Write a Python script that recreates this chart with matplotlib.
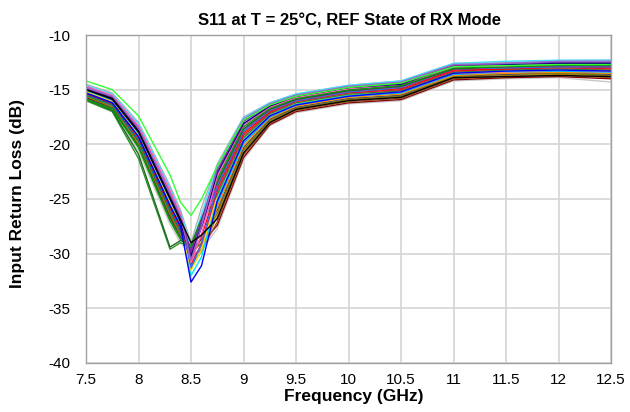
import matplotlib
matplotlib.use("Agg")
import matplotlib.pyplot as plt

# frequency points (GHz)
freq = [7.5, 7.75, 8.0, 8.3, 8.4, 8.5, 8.6, 8.75, 9.0, 9.25, 9.5, 10.0, 10.5, 11.0, 11.5, 12.0, 12.5]

# S11 traces (dB), one per unit
s11_lightgray = [-16.0, -17.0, -20.6, -27.3, -29.0, -30.0, -29.7, -27.7, -21.4, -18.3, -17.1, -16.3, -16.0, -14.2, -14.0, -13.9, -14.3]
s11_gray = [-14.5, -15.3, -18.0, -23.8, -26.0, -29.0, -25.8, -21.8, -17.5, -16.2, -15.4, -14.6, -14.2, -12.6, -12.5, -12.35, -12.3]
s11_cyan2 = [-14.6, -15.4, -18.1, -24.0, -26.2, -29.5, -26.4, -22.0, -17.6, -16.2, -15.4, -14.6, -14.2, -12.6, -12.4, -12.3, -12.3]
s11_darkred = [-15.7, -16.7, -20.1, -26.6, -28.4, -29.5, -29.1, -27.4, -21.2, -18.2, -17.0, -16.2, -15.9, -14.1, -13.9, -13.8, -14.0]
s11_brown = [-15.6, -16.5, -19.8, -26.3, -28.1, -30.2, -29.7, -27.1, -21.0, -18.1, -16.9, -16.1, -15.8, -14.0, -13.8, -13.7, -13.9]
s11_goldenrod = [-15.5, -16.4, -19.7, -26.1, -28.0, -30.4, -29.6, -26.6, -20.6, -17.9, -16.8, -16.0, -15.6, -13.9, -13.7, -13.6, -13.7]
s11_olive = [-15.6, -16.6, -20.0, -26.4, -28.3, -30.0, -29.0, -26.3, -20.5, -17.8, -16.7, -15.9, -15.6, -13.8, -13.6, -13.5, -13.7]
s11_darkgray = [-15.8, -16.7, -20.2, -26.8, -28.5, -29.8, -28.7, -26.0, -20.3, -17.7, -16.6, -15.8, -15.5, -13.7, -13.6, -13.4, -13.6]
s11_orange = [-15.3, -16.2, -19.4, -25.7, -27.7, -31.0, -29.8, -25.7, -20.1, -17.6, -16.5, -15.7, -15.4, -13.7, -13.5, -13.4, -13.5]
s11_skyblue = [-15.2, -16.2, -19.3, -25.5, -27.5, -31.2, -29.8, -25.4, -19.9, -17.5, -16.4, -15.6, -15.3, -13.6, -13.4, -13.3, -13.4]
s11_salmon = [-15.0, -15.9, -18.9, -25.0, -27.1, -30.8, -29.3, -25.0, -19.6, -17.4, -16.3, -15.5, -15.2, -13.5, -13.4, -13.2, -13.3]
s11_cyan = [-15.1, -16.0, -19.0, -25.2, -27.2, -32.0, -30.3, -24.9, -19.5, -17.3, -16.3, -15.5, -15.1, -13.4, -13.3, -13.2, -13.2]
s11_gold = [-15.2, -16.1, -19.2, -25.4, -27.4, -31.5, -29.7, -24.6, -19.4, -17.2, -16.2, -15.4, -15.1, -13.4, -13.2, -13.1, -13.2]
s11_darkgreen2 = [-16.0, -17.0, -21.3, -29.6, -29.0, -29.4, -27.2, -24.6, -19.4, -17.2, -16.2, -15.4, -15.1, -13.4, -13.2, -13.1, -13.2]
s11_crimson = [-14.9, -15.8, -18.7, -24.8, -26.9, -31.0, -29.1, -24.3, -19.2, -17.1, -16.1, -15.3, -15.0, -13.3, -13.1, -13.0, -13.1]
s11_red = [-15.4, -16.3, -19.6, -25.9, -27.8, -30.5, -28.4, -24.0, -19.0, -17.0, -16.0, -15.2, -14.9, -13.2, -13.1, -12.9, -13.0]
s11_teal = [-15.5, -16.4, -19.7, -26.1, -28.0, -29.6, -27.4, -23.8, -18.8, -16.9, -16.0, -15.2, -14.8, -13.1, -13.0, -12.9, -12.9]
s11_royalblue = [-14.8, -15.6, -18.5, -24.5, -26.6, -31.3, -29.1, -23.8, -18.8, -16.9, -16.0, -15.2, -14.8, -13.1, -13.0, -12.9, -12.9]
s11_magenta = [-14.7, -15.6, -18.4, -24.3, -26.5, -30.0, -27.6, -23.5, -18.6, -16.8, -15.9, -15.1, -14.7, -13.1, -12.9, -12.8, -12.8]
s11_darkgreen = [-15.9, -16.9, -20.9, -29.4, -28.8, -29.2, -26.8, -23.5, -18.6, -16.8, -15.9, -15.1, -14.7, -13.1, -12.9, -12.8, -12.8]
s11_green = [-15.9, -16.8, -20.3, -27.0, -28.7, -29.4, -26.9, -23.2, -18.4, -16.7, -15.8, -15.0, -14.6, -13.0, -12.9, -12.7, -12.7]
s11_darkmagenta = [-15.3, -16.2, -19.3, -25.6, -27.5, -30.1, -27.5, -22.9, -18.2, -16.6, -15.7, -14.9, -14.5, -12.9, -12.8, -12.6, -12.6]
s11_pink = [-14.7, -15.5, -18.3, -24.2, -26.3, -30.8, -28.2, -22.9, -18.2, -16.6, -15.7, -14.9, -14.5, -12.9, -12.8, -12.6, -12.6]
s11_navy = [-15.0, -15.9, -18.9, -25.0, -27.1, -30.3, -27.5, -22.6, -18.1, -16.5, -15.6, -14.8, -14.5, -12.8, -12.7, -12.6, -12.6]
s11_purple = [-14.9, -15.7, -18.7, -24.7, -26.8, -29.8, -26.9, -22.4, -17.9, -16.4, -15.6, -14.8, -14.4, -12.8, -12.6, -12.5, -12.5]
s11_violet = [-14.8, -15.6, -18.5, -24.5, -26.6, -30.6, -27.5, -22.1, -17.7, -16.3, -15.5, -14.7, -14.3, -12.7, -12.6, -12.4, -12.4]
s11_blue = [-15.3, -16.2, -19.3, -25.6, -27.5, -32.6, -31.1, -25.2, -19.7, -17.4, -16.4, -15.6, -15.2, -13.5, -13.3, -13.2, -13.3]
s11_black = [-15.0, -15.8, -18.8, -24.9, -26.9, -29.0, -28.3, -26.8, -20.8, -18.0, -16.8, -16.0, -15.7, -13.9, -13.8, -13.7, -13.8]
s11_lime = [-14.2, -15.0, -17.4, -22.8, -25.3, -26.5, -25.0, -22.0, -17.8, -16.4, -15.6, -14.8, -14.4, -12.9, -12.8, -12.7, -12.7]

traces = [
    (s11_lightgray, "#c8c8c8"),
    (s11_gray, "#b0b0b0"),
    (s11_cyan2, "#40e0ff"),
    (s11_darkred, "#800000"),
    (s11_brown, "#a0522d"),
    (s11_goldenrod, "#b8860b"),
    (s11_olive, "#808000"),
    (s11_darkgray, "#505050"),
    (s11_orange, "#ff8c00"),
    (s11_skyblue, "#00b0f0"),
    (s11_salmon, "#fa8072"),
    (s11_cyan, "#00e5ee"),
    (s11_gold, "#ffd700"),
    (s11_darkgreen2, "#2f8f2f"),
    (s11_crimson, "#dc143c"),
    (s11_red, "#ff0000"),
    (s11_teal, "#008080"),
    (s11_royalblue, "#4169e1"),
    (s11_magenta, "#ff00ff"),
    (s11_darkgreen, "#1e6b1e"),
    (s11_green, "#00a000"),
    (s11_darkmagenta, "#8b008b"),
    (s11_pink, "#ff69b4"),
    (s11_navy, "#000080"),
    (s11_purple, "#7030a0"),
    (s11_violet, "#9966cc"),
    (s11_blue, "#0000ff"),
    (s11_black, "#000000"),
    (s11_lime, "#33ff33"),
]

plt.rcParams["font.family"] = ["Liberation Sans", "DejaVu Sans"]
plt.rcParams["axes.unicode_minus"] = False

fig = plt.figure(figsize=(6.3, 4.12), dpi=100)
ax = fig.add_axes([0.1365, 0.119, 0.8335, 0.796])

for vals, col in traces:
    ax.plot(freq, vals, color=col, lw=1.0)

ax.set_xlim(7.5, 12.5)
ax.set_ylim(-40, -10)
ax.set_xticks([7.5, 8, 8.5, 9, 9.5, 10, 10.5, 11, 11.5, 12, 12.5])
ax.set_xticklabels(["7.5", "8", "8.5", "9", "9.5", "10", "10.5", "11", "11.5", "12", "12.5"])
ax.set_yticks([-40, -35, -30, -25, -20, -15, -10])
ax.tick_params(axis="both", length=0, labelsize=11)
ax.tick_params(axis="x", pad=7)
ax.tick_params(axis="y", pad=11)
ax.grid(True, color="#d4d4d4", lw=1.2)
ax.set_axisbelow(True)
for sp in ax.spines.values():
    sp.set_color("#a0a0a0")
    sp.set_linewidth(1.0)

fig.text(349 / 630, 1 - 21 / 412, "S11 at T = 25°C, REF State of RX Mode",
         fontsize=12, fontweight="bold", ha="center", va="center")
fig.text(354 / 630, 1 - 397 / 412, "Frequency (GHz)",
         fontsize=12.5, fontweight="bold", ha="center", va="center")
fig.text(18 / 630, 1 - 194 / 412, "Input Return Loss (dB)", rotation=90,
         fontsize=12.5, fontweight="bold", ha="center", va="center")

fig.savefig("out.png", dpi=100)
